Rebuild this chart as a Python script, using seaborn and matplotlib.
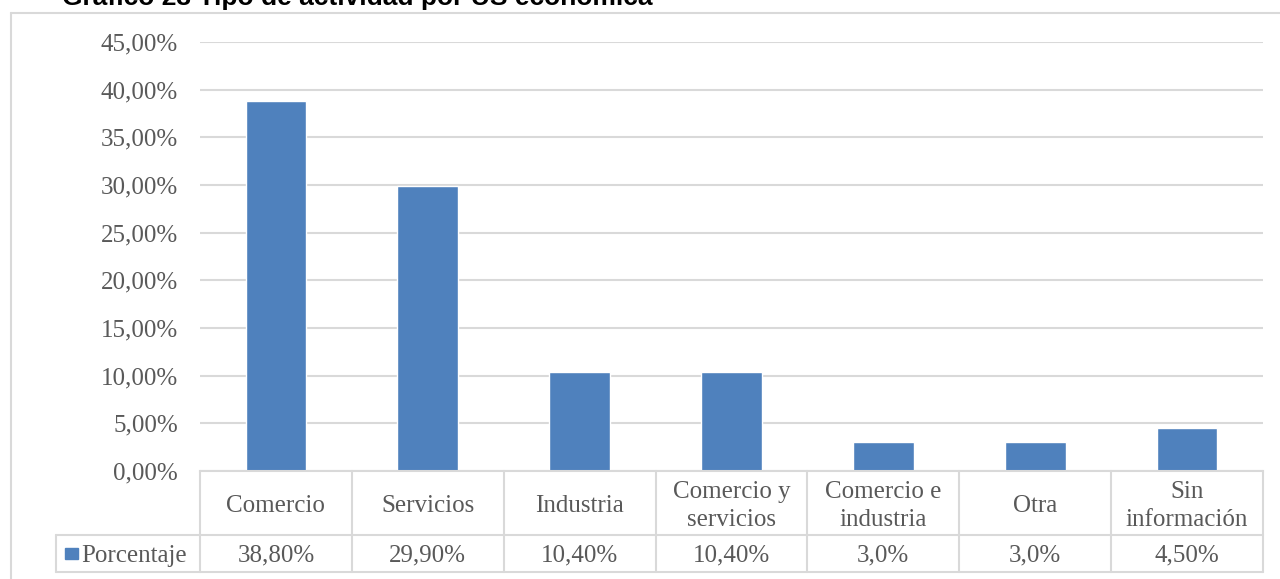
import numpy as np
import matplotlib
matplotlib.use('Agg')
import matplotlib.pyplot as plt
import matplotlib.transforms as mtransforms
from matplotlib.patches import Rectangle
from matplotlib.lines import Line2D
import seaborn as sns

# --- Data ---
categorias = ['Comercio', 'Servicios', 'Industria', 'Comercio y\nservicios',
              'Comercio e\nindustria', 'Otra', 'Sin\ninformación']
porcentaje = [38.8, 29.9, 10.4, 10.4, 3.0, 3.0, 4.5]
etiquetas = ['38,80%', '29,90%', '10,40%', '10,40%', '3,0%', '3,0%', '4,50%']
serie = 'Porcentaje'
titulo = 'Gráfico 23 Tipo de actividad por US económica'
yticks = np.arange(0, 46, 5)

# --- Style ---
sns.set_style('white')
plt.rcParams['font.family'] = ['Liberation Serif', 'DejaVu Serif']
gris = '#595959'
linea = '#d9d9d9'
azul = '#4f81bd'

W, H = 1280, 579
fig = plt.figure(figsize=(W / 100, H / 100), dpi=100)

def fx(px):
    return px / W

def fy(py):
    return 1 - py / H

# plot area in pixels: x 200..1263, y 42..471
ax = fig.add_axes([fx(200), fy(471), fx(1263) - fx(200), fy(42) - fy(471)])
idx = list(range(len(categorias)))
sns.barplot(x=idx, y=porcentaje, color=azul, width=0.4, saturation=1, ax=ax)
ax.set_xlim(-0.5, len(categorias) - 0.5)
ax.set_ylim(0, 45)
ax.set_yticks(yticks)
ax.set_yticklabels([f'{v:.2f}%'.replace('.', ',') for v in yticks],
                   fontsize=18, color=gris)
ax.tick_params(axis='y', length=0, pad=16)
ax.set_xticks([])
ax.set_xlabel('')
ax.set_ylabel('')
ax.grid(axis='y', color=linea, lw=1.5)
ax.set_axisbelow(True)
for s in ['top', 'right', 'left']:
    ax.spines[s].set_visible(False)
ax.spines['bottom'].set_color(linea)
ax.spines['bottom'].set_linewidth(1.5)

# --- Data table below the axis ---
tr = mtransforms.blended_transform_factory(ax.transData, ax.transAxes)
ppx = 429.0  # pixels per axes unit (height)
y_hdr = -64 / ppx
y_bot = -101 / ppx
n = len(categorias)
x_left = -0.5 - 144 / (1063 / n)  # left edge of legend cell
kw = dict(transform=tr, color=linea, lw=1.5, clip_on=False)
for b in np.arange(-0.5, n, 1.0):
    ax.add_line(Line2D([b, b], [0, y_bot], **kw))
ax.add_line(Line2D([x_left, x_left], [y_hdr, y_bot], **kw))
ax.add_line(Line2D([x_left, n - 0.5], [y_hdr, y_hdr], **kw))
ax.add_line(Line2D([x_left, n - 0.5], [y_bot, y_bot], **kw))

for i, (c, e) in enumerate(zip(categorias, etiquetas)):
    ax.text(i, y_hdr / 2 - 3 / ppx, c, transform=tr, ha='center', va='center',
            fontsize=18, color=gris, linespacing=1.3)
    ax.text(i, (y_hdr + y_bot) / 2 - 2 / ppx, e, transform=tr, ha='center',
            va='center', fontsize=18, color=gris)

# legend key
fig.patches.append(Rectangle((fx(65), fy(559)), fx(78) - fx(65), fy(548) - fy(559),
                             transform=fig.transFigure, color=azul))
fig.text(fx(81), fy(556), serie, ha='left', va='center', fontsize=18, color=gris)

# outer frame
fig.lines.append(Line2D([fx(11), 1], [fy(12.5), fy(12.5)], transform=fig.transFigure,
                        color=linea, lw=1.5))
fig.lines.append(Line2D([fx(11), fx(11)], [fy(12.5), 0], transform=fig.transFigure,
                        color=linea, lw=1.5))

# title, cut at the top edge as in the source image
fig.text(fx(62), fy(5.5), titulo, ha='left', va='baseline', fontsize=19,
         fontweight='bold', family=['Liberation Sans', 'DejaVu Sans'], color='black')

fig.savefig('out.png', dpi=100)
